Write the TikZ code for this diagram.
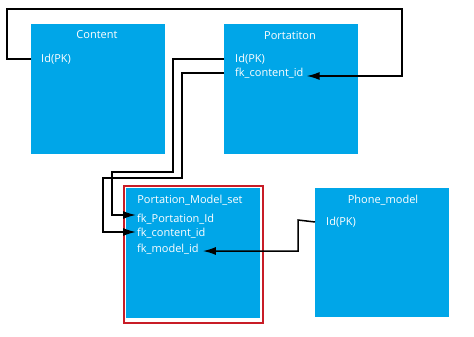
\documentclass[tikz,border=0pt]{standalone}
\usepackage{fontspec}
\setmainfont{Open Sans}
\usetikzlibrary{arrows.meta}
\definecolor{tblblue}{RGB}{0,166,232}
\definecolor{selred}{RGB}{200,28,38}
\tikzset{
  tbl/.style={fill=tblblue, draw=none, anchor=north west, inner sep=0pt},
  ttl/.style={text=white, font=\fontsize{11}{13}\selectfont, inner sep=0pt},
  fld/.style={text=white, font=\fontsize{11}{13}\selectfont, inner sep=0pt, anchor=west},
  conn/.style={line width=1.5pt, draw=black},
  arr/.style={conn, -{Latex[length=13pt,width=8pt]}},
}
\begin{document}
\begin{tikzpicture}[x=1pt,y=-1pt]
\useasboundingbox (0,0) rectangle (474,337);
% tables
\node[tbl, minimum width=134pt, minimum height=130pt] (content) at (31,24) {};
\node[tbl, minimum width=134pt, minimum height=130pt] (port) at (224,24) {};
\node[draw=selred, line width=2pt, fill=white, minimum width=139pt, minimum height=137pt, anchor=north west, inner sep=0pt] (selbox) at (123,185) {};
\node[tbl, minimum width=134pt, minimum height=130pt] (pms) at (126,188) {};
\node[tbl, minimum width=134pt, minimum height=129pt] (phone) at (315,188) {};
% titles
\node[ttl] (contentT) at (97,35) {Content};
\node[ttl] (portT) at (290,36) {Portatiton};
\node[ttl] (pmsT) at (190,200) {Portation\_Model\_set};
\node[ttl] (phoneT) at (383,200) {Phone\_model};
% fields
\node[fld] (cid) at (41,59) {Id(PK)};
\node[fld] (pid) at (235,59) {Id(PK)};
\node[fld] (pfk) at (235,73) {fk\_content\_id};
\node[fld] (mpid) at (137,219) {fk\_Portation\_Id};
\node[fld] (mcid) at (137,233) {fk\_content\_id};
\node[fld] (mmid) at (137,249) {fk\_model\_id};
\node[fld] (phid) at (326,222) {Id(PK)};
% connectors
\draw[arr] (content.west |- cid) -- (7,59) -- (7,9) -- (402,9) -- (402,76) -- ([xshift=3pt]pfk.east |- 0,76);
\draw[arr] (port.west |- pid) -- (173,59) -- (173,172) -- (112,172) -- (112,215) -- ([xshift=-1pt]mpid.west |- 0,215);
\draw[arr] (port.west |- pfk) -- (182,73) -- (182,178) -- (103,178) -- (103,232) -- ([xshift=-1pt]mcid.west |- 0,232);
\draw[arr] (phone.west |- phid) -- (298,220) -- (298,251) -- ([xshift=4pt]mmid.east |- 0,251);
\end{tikzpicture}
\end{document}
